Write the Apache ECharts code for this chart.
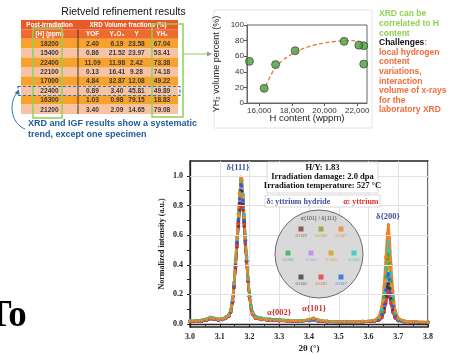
<!DOCTYPE html>
<html><head><meta charset="utf-8">
<script src="https://cdn.jsdelivr.net/npm/echarts@6/dist/echarts.min.js"></script>
<style>html,body{margin:0;padding:0;background:#fff;overflow:hidden}#c{width:450px;height:354px}</style>
</head><body><div id="c"></div>
<script>
// ---------- Table data (Rietveld refinement results) ----------
const hPpm   = [18200, 15400, 22400, 22100, 17000, 22400, 16300, 21200];
const yofPct = [2.40, 0.86, 11.09, 0.13, 4.84, 0.89, 1.03, 3.40];
const y2o3Pct= [6.19, 21.52, 11.98, 16.41, 32.87, 3.40, 0.98, 2.09];
const yPct   = [23.58, 23.97, 2.42, 9.28, 12.08, 45.81, 79.15, 14.65];
const yh2Pct = [67.04, 53.41, 73.38, 74.18, 49.22, 49.89, 18.83, 79.08];
const tableHead2 = ['[H] (ppm)', 'YOF', 'Y₂O₃', 'Y', 'YH₂'];

// ---------- Fit curve ----------
const fitH   = [16250, 16400, 16600, 16800, 17000, 17400, 17800, 18200, 18600, 19000, 19500, 20000, 20500, 21000, 21500, 22000, 22400];
const fitYH2 = [14, 22, 31, 39, 46, 54, 60, 65, 69, 72, 75, 77, 78.5, 79.5, 80, 79.5, 77];
const scatterXTicks = [16000, 18000, 20000, 22000];

// ---------- XRD spectra ----------
const twoTheta = [3.000,3.020,3.040,3.055,3.068,3.080,3.095,3.110,3.120,
  3.130,3.137,3.143,3.148,3.153,3.158,3.163,3.167,3.171,3.174,3.178,3.182,3.186,3.190,3.195,3.200,3.205,3.210,
  3.220,3.240,3.270,3.300,3.330,3.370,3.400,3.415,3.430,3.460,3.520,3.580,
  3.620,3.635,3.645,3.652,3.658,3.663,3.667,3.671,3.676,3.682,3.690,3.700,
  3.720,3.760,3.800];
const specBrown = [0.016,0.017,0.020,0.026,0.036,0.032,0.026,0.030,0.038,
  0.052,0.082,0.145,0.245,0.380,0.520,0.660,0.770,0.840,0.835,0.770,0.660,0.540,0.420,0.290,0.185,0.108,0.068,
  0.040,0.030,0.024,0.022,0.019,0.017,0.024,0.030,0.021,0.014,0.012,0.013,
  0.019,0.027,0.043,0.080,0.138,0.186,0.200,0.182,0.135,0.080,0.040,0.023,
  0.014,0.011,0.010];
const specOlive = [0.018,0.019,0.022,0.028,0.039,0.034,0.028,0.032,0.040,
  0.055,0.086,0.152,0.258,0.400,0.555,0.710,0.850,0.950,0.940,0.840,0.700,0.565,0.430,0.295,0.188,0.110,0.069,
  0.041,0.031,0.026,0.025,0.021,0.019,0.028,0.036,0.025,0.017,0.015,0.016,
  0.023,0.040,0.085,0.170,0.310,0.420,0.450,0.390,0.280,0.150,0.068,0.032,
  0.018,0.014,0.012];
const specViolet = [0.018,0.019,0.022,0.028,0.038,0.034,0.028,0.032,0.040,
  0.054,0.085,0.150,0.255,0.395,0.545,0.700,0.830,0.920,0.910,0.820,0.690,0.555,0.425,0.292,0.186,0.109,0.069,
  0.041,0.031,0.026,0.024,0.021,0.019,0.027,0.034,0.024,0.016,0.014,0.015,
  0.021,0.032,0.060,0.120,0.210,0.290,0.310,0.270,0.190,0.110,0.050,0.027,
  0.016,0.013,0.011];
const specGold = [0.019,0.020,0.023,0.029,0.040,0.035,0.029,0.033,0.041,
  0.057,0.088,0.156,0.264,0.410,0.565,0.725,0.860,0.960,0.950,0.850,0.710,0.572,0.435,0.298,0.189,0.110,0.070,
  0.042,0.032,0.027,0.025,0.022,0.020,0.030,0.038,0.026,0.017,0.015,0.016,
  0.022,0.038,0.080,0.160,0.290,0.390,0.420,0.370,0.260,0.140,0.064,0.031,
  0.017,0.014,0.012];
const specGray = [0.017,0.018,0.021,0.027,0.037,0.033,0.027,0.031,0.039,
  0.053,0.084,0.148,0.252,0.390,0.540,0.690,0.815,0.900,0.895,0.810,0.685,0.552,0.422,0.290,0.185,0.108,0.068,
  0.040,0.030,0.025,0.023,0.020,0.018,0.025,0.031,0.022,0.015,0.013,0.014,
  0.020,0.030,0.054,0.105,0.185,0.250,0.270,0.240,0.170,0.095,0.045,0.025,
  0.015,0.012,0.011];
const specRed = [0.017,0.018,0.021,0.027,0.036,0.032,0.027,0.031,0.039,
  0.053,0.083,0.147,0.250,0.386,0.532,0.680,0.800,0.880,0.875,0.795,0.675,0.548,0.420,0.290,0.185,0.108,0.068,
  0.040,0.030,0.025,0.023,0.020,0.018,0.023,0.028,0.020,0.015,0.013,0.014,
  0.020,0.028,0.046,0.088,0.150,0.205,0.220,0.195,0.140,0.080,0.040,0.024,
  0.015,0.012,0.011];
const specBlue = [0.018,0.019,0.022,0.028,0.038,0.034,0.028,0.032,0.040,
  0.055,0.086,0.152,0.258,0.400,0.552,0.708,0.845,0.940,0.932,0.835,0.700,0.565,0.430,0.296,0.188,0.110,0.070,
  0.041,0.031,0.026,0.024,0.021,0.019,0.024,0.029,0.022,0.016,0.014,0.015,
  0.021,0.034,0.066,0.130,0.230,0.320,0.340,0.300,0.210,0.120,0.055,0.028,
  0.016,0.013,0.011];
const specGreen = [0.022,0.023,0.027,0.034,0.046,0.040,0.034,0.038,0.047,
  0.063,0.096,0.168,0.280,0.430,0.590,0.745,0.880,0.970,0.965,0.870,0.735,0.595,0.455,0.315,0.205,0.125,0.082,
  0.052,0.040,0.034,0.031,0.026,0.022,0.030,0.038,0.027,0.019,0.017,0.018,
  0.023,0.040,0.090,0.180,0.320,0.440,0.470,0.410,0.290,0.160,0.070,0.033,
  0.019,0.015,0.013];
const specCyan = [0.020,0.021,0.025,0.031,0.042,0.037,0.031,0.035,0.044,
  0.060,0.093,0.164,0.275,0.425,0.585,0.745,0.885,0.980,0.975,0.875,0.735,0.592,0.450,0.310,0.198,0.116,0.074,
  0.045,0.034,0.029,0.027,0.023,0.021,0.029,0.036,0.026,0.018,0.016,0.017,
  0.024,0.045,0.100,0.210,0.380,0.520,0.560,0.490,0.340,0.190,0.080,0.036,
  0.019,0.015,0.013];
const specOrange = [0.020,0.021,0.024,0.030,0.041,0.036,0.030,0.034,0.042,
  0.058,0.090,0.160,0.270,0.420,0.580,0.740,0.880,0.990,0.970,0.860,0.720,0.580,0.440,0.300,0.190,0.110,0.070,
  0.042,0.032,0.027,0.026,0.022,0.020,0.031,0.040,0.027,0.018,0.016,0.017,
  0.025,0.050,0.120,0.250,0.450,0.610,0.670,0.580,0.400,0.220,0.090,0.040,
  0.020,0.015,0.013];
const xrdTicksY = [0, 0.2, 0.4, 0.6, 0.8, 1.0];
const xrdMinorY = [0, 0.1, 0.2, 0.3, 0.4, 0.5, 0.6, 0.7, 0.8, 0.9, 1.0];

// ---------- Inset: alpha{101}/delta{111} ratios ----------
const insetRatio = [0.039, 0.038, 0.047, 0.036, 0.042, 0.046, 0.042, 0.036, 0.030, 0.027];
const insetCol   = [1, 2, 3, 0.35, 1.5, 2.5, 3.65, 1, 2, 3];
const insetRow   = [0, 0, 0, 1, 1, 1, 1, 2, 2, 2];

// ---------- styles ----------
const C = {brown:'#7E3B3B', olive:'#9C9A1E', orange:'#F5821F', green:'#2EAF5C', violet:'#C07FEF',
  gold:'#D9A010', cyan:'#20C9C9', gray:'#3A3A3A', red:'#EE3535', blue:'#2563DE'};
const insetColors = [C.brown, C.olive, C.orange, C.green, C.violet, C.gold, C.cyan, C.gray, C.red, C.blue];
const SANS = "'Liberation Sans', Arial, sans-serif";
const SERIF = "'Liberation Serif', 'Times New Roman', serif";
const colEdges = [0, 57, 86, 106, 125, 157];

// table cells
const tableCells = [];
const whiteB = 'bold 6.3px ' + SANS;
tableCells.push({c0:0,c1:1,r:0,text:'Post-irradiation',fill:'#E85A2A',color:'#fff',font:whiteB});
tableCells.push({c0:1,c1:5,r:0,text:'XRD Volume fractions (%)',fill:'#E85A2A',color:'#fff',font:whiteB});
tableHead2.forEach((t,i)=>tableCells.push({c0:i,c1:i+1,r:1,text:t,fill:'#EF6A2E',color:'#fff',font:whiteB}));
hPpm.forEach((h,i)=>{
  const fill = i%2===0 ? '#F6A22C' : '#F8C3A5';
  const vals = [String(h), yofPct[i].toFixed(2), y2o3Pct[i].toFixed(2), yPct[i].toFixed(2), yh2Pct[i].toFixed(2)];
  vals.forEach((v,j)=>tableCells.push({c0:j,c1:j+1,r:i+2,text:v,fill:fill,color:'#3a3a3a',font:'bold 6.6px '+SANS}));
});

function spec(name, color, ys, extra){
  return Object.assign({
    type:'line', name:name, xAxisIndex:2, yAxisIndex:2,
    data: twoTheta.map((x,i)=>[x, ys[i]]),
    symbol:'circle', symbolSize:3.5, showSymbol:true,
    lineStyle:{color:color, width:2.4}, itemStyle:{color:color},
    silent:true, z:3
  }, extra||{});
}

const chart = echarts.init(document.getElementById('c'), null, {renderer:'canvas'});

const option = {
  animation:false,
  backgroundColor:'#fff',
  grid:[
    {left:21, top:20, width:157, height:94, show:false},
    {left:247, top:25, width:120, height:78, show:true, borderColor:'#666', borderWidth:1},
    {left:190, top:161, width:238, height:166, show:true, borderColor:'#222', borderWidth:1.3},
    {left:281, top:229, width:80, height:48, show:false}
  ],
  xAxis:[
    {gridIndex:0, type:'value', min:0, max:157, show:false},
    {gridIndex:1, type:'value', min:15250, max:22600,
      axisLine:{show:true, lineStyle:{color:'#666'}},
      axisTick:{show:true, length:3, customValues:scatterXTicks, lineStyle:{color:'#555'}},
      axisLabel:{customValues:scatterXTicks, margin:4, fontSize:8, fontFamily:SANS, color:'#333'},
      splitLine:{show:false}},
    {gridIndex:2, type:'value', min:3.0, max:3.8, interval:0.1,
      axisLine:{show:true, lineStyle:{color:'#222', width:1.3}},
      axisTick:{show:true, length:3, lineStyle:{color:'#222'}},
      minorTick:{show:true, splitNumber:2, length:2, lineStyle:{color:'#222'}},
      axisLabel:{margin:6, fontSize:8, fontWeight:'bold', fontFamily:SERIF, color:'#222', formatter:v=>v.toFixed(1)},
      splitLine:{show:true, lineStyle:{color:'#e2e2e2', width:1}}},
    {gridIndex:3, type:'value', min:0, max:4, show:false}
  ],
  yAxis:[
    {gridIndex:0, type:'category', inverse:true, data:['h1','h2','r0','r1','r2','r3','r4','r5','r6','r7'], show:false},
    {gridIndex:1, type:'value', min:0, max:100, interval:20,
      axisLine:{show:true, lineStyle:{color:'#666'}},
      axisTick:{show:true, length:3, lineStyle:{color:'#555'}},
      axisLabel:{margin:3, fontSize:8, fontFamily:SANS, color:'#333'},
      splitLine:{show:false}},
    {gridIndex:2, type:'value', min:-0.02, max:1.1,
      axisLine:{show:true, lineStyle:{color:'#222', width:1.3}},
      axisTick:{show:true, length:3, customValues:xrdMinorY, lineStyle:{color:'#222'}},
      axisLabel:{customValues:xrdTicksY, margin:7, fontSize:8, fontWeight:'bold', fontFamily:SERIF, color:'#222', formatter:v=>v.toFixed(1)},
      splitLine:{show:false}},
    {gridIndex:3, type:'value', min:0, max:2, inverse:true, show:false}
  ],
  series:[
    {type:'custom', xAxisIndex:0, yAxisIndex:0, silent:true,
      data: tableCells.map(c=>[colEdges[c.c0], c.r]),
      encode:{x:0, y:1},
      renderItem:function(params, api){
        const cell = tableCells[params.dataIndex];
        const p0 = api.coord([colEdges[cell.c0], cell.r]);
        const p1 = api.coord([colEdges[cell.c1], cell.r]);
        const bh = api.size([0,1])[1];
        const ch = [
          {type:'rect', shape:{x:p0[0], y:p0[1]-bh/2, width:p1[0]-p0[0], height:bh}, style:{fill:cell.fill}},
          {type:'text', style:{text:cell.text, x:(p0[0]+p1[0])/2, y:p0[1]+0.5, align:'center', verticalAlign:'middle', font:cell.font, fill:cell.color}}
        ];
        if (cell.c0===1 && cell.r>=1) ch.push({type:'line', shape:{x1:p0[0], y1:p0[1]-bh/2, x2:p0[0], y2:p0[1]+bh/2}, style:{stroke:'#4a2e1e', lineWidth:1}});
        return {type:'group', children:ch};
      }},
    {type:'line', xAxisIndex:1, yAxisIndex:1, data: fitH.map((h,i)=>[h, fitYH2[i]]), smooth:true, showSymbol:false,
      lineStyle:{color:'#F0753A', width:1.3, type:[4,2.5]}, silent:true},
    {type:'scatter', xAxisIndex:1, yAxisIndex:1, data: hPpm.map((h,i)=>[h, yh2Pct[i]]), symbolSize:8,
      itemStyle:{color:'#4F9B40', borderColor:'#1f3f18', borderWidth:0.8}, silent:true, z:4},
    spec('brown', C.brown, specBrown, {markLine:{silent:true, symbol:'none', label:{show:false}, animation:false,
      lineStyle:{color:'#e2e2e2', type:'solid', width:1}, data: xrdTicksY.slice(1).map(v=>({yAxis:v}))}}),
    spec('olive', C.olive, specOlive),
    spec('violet', C.violet, specViolet),
    spec('gold', C.gold, specGold),
    spec('gray', C.gray, specGray),
    spec('red', C.red, specRed),
    spec('blue', C.blue, specBlue),
    spec('green', C.green, specGreen),
    spec('cyan', C.cyan, specCyan),
    spec('orange', C.orange, specOrange),
    {type:'scatter', xAxisIndex:3, yAxisIndex:3, z:30, silent:true, symbol:'rect', symbolSize:5,
      data: insetRatio.map((r,i)=>({value:[insetCol[i], insetRow[i], r], itemStyle:{color:insetColors[i]},
        label:{color:insetColors[i]}})),
      label:{show:true, position:'bottom', distance:1.5, fontSize:5, fontFamily:SERIF,
        formatter:p=>p.value[2].toFixed(3)}}
  ],
  graphic:[
    {type:'text', x:123.5, y:12, z:50, style:{text:'Rietveld refinement results', font:'10.5px '+SANS, fill:'#111', align:'center', verticalAlign:'middle'}},
    {type:'rect', z:50, shape:{x:33, y:28, width:29, height:90}, style:{fill:'none', stroke:'#92D050', lineWidth:1.5}},
    {type:'rect', z:50, shape:{x:152, y:24, width:31, height:93}, style:{fill:'none', stroke:'#92D050', lineWidth:1.5}},
    {type:'line', z:50, shape:{x1:183, y1:54, x2:207, y2:54}, style:{stroke:'#92D050', lineWidth:1}},
    {type:'polygon', z:50, shape:{points:[[207,51.5],[212,54],[207,56.5]]}, style:{fill:'#9a9a9a'}},
    {type:'rect', z:50, shape:{x:18, y:86.5, width:162, height:9}, style:{fill:'none', stroke:'#2E75B6', lineWidth:1.2, lineDash:[3,2]}},
    {type:'bezierCurve', z:50, shape:{x1:25, y1:129, x2:17, y2:93, cpx1:10, cpx2:9, cpy1:123, cpy2:102}, style:{fill:'none', stroke:'#2E75B6', lineWidth:1}},
    {type:'polygon', z:50, shape:{points:[[19,89.5],[14.5,93],[19.5,95]]}, style:{fill:'#2E75B6'}},
    {type:'text', x:28, y:124, z:50, style:{text:'XRD and IGF results show a systematic', font:'bold 9px '+SANS, fill:'#1F5C99', verticalAlign:'middle'}},
    {type:'text', x:28, y:135, z:50, style:{text:'trend, except one specimen', font:'bold 9px '+SANS, fill:'#1F5C99', verticalAlign:'middle'}},
    // scatter panel
    {type:'rect', z:1, shape:{x:214, y:10, width:158, height:118}, style:{fill:'none', stroke:'#e4e4e4', lineWidth:1}},
    {type:'text', x:217, y:64, rotation:Math.PI/2, z:50, style:{text:'YH₂ volume percent (%)', font:'9px '+SANS, fill:'#222', align:'center', verticalAlign:'middle'}},
    {type:'text', x:307, y:118, z:50, style:{text:'H content (wppm)', font:'9.5px '+SANS, fill:'#222', align:'center', verticalAlign:'middle'}},
    // right-hand text column
    {type:'text', x:379, y:14, z:50, style:{text:'XRD can be', font:'bold 8.5px '+SANS, fill:'#92D050', verticalAlign:'middle'}},
    {type:'text', x:379, y:23.6, z:50, style:{text:'correlated to H', font:'bold 8.5px '+SANS, fill:'#92D050', verticalAlign:'middle'}},
    {type:'text', x:379, y:33.2, z:50, style:{text:'content', font:'bold 8.5px '+SANS, fill:'#92D050', verticalAlign:'middle'}},
    {type:'text', x:379, y:42.8, z:50, style:{text:'{k|Challenges}{o|:}', verticalAlign:'middle',
      rich:{k:{font:'bold 8.5px '+SANS, fill:'#111'}, o:{font:'bold 8.5px '+SANS, fill:'#F26B3A'}}}},
    {type:'text', x:379, y:52.4, z:50, style:{text:'local hydrogen', font:'bold 8.5px '+SANS, fill:'#F26B3A', verticalAlign:'middle'}},
    {type:'text', x:379, y:62, z:50, style:{text:'content', font:'bold 8.5px '+SANS, fill:'#F26B3A', verticalAlign:'middle'}},
    {type:'text', x:379, y:71.6, z:50, style:{text:'variations,', font:'bold 8.5px '+SANS, fill:'#F26B3A', verticalAlign:'middle'}},
    {type:'text', x:379, y:81.2, z:50, style:{text:'interaction', font:'bold 8.5px '+SANS, fill:'#F26B3A', verticalAlign:'middle'}},
    {type:'text', x:379, y:90.8, z:50, style:{text:'volume of x-rays', font:'bold 8.5px '+SANS, fill:'#F26B3A', verticalAlign:'middle'}},
    {type:'text', x:379, y:100.4, z:50, style:{text:'for the', font:'bold 8.5px '+SANS, fill:'#F26B3A', verticalAlign:'middle'}},
    {type:'text', x:379, y:110, z:50, style:{text:'laboratory XRD', font:'bold 8.5px '+SANS, fill:'#F26B3A', verticalAlign:'middle'}},
    // big "To"
    {type:'text', x:-13, y:335, z:50, style:{text:'To', font:'bold 37px '+SERIF, fill:'#000', verticalAlign:'bottom'}},
    // XRD titles
    {type:'text', x:162, y:244, rotation:Math.PI/2, z:50, style:{text:'Normalized intensity (a.u.)', font:'bold 8px '+SERIF, fill:'#222', align:'center', verticalAlign:'middle'}},
    {type:'text', x:309, y:349, z:50, style:{text:'2θ (°)', font:'bold 9px '+SERIF, fill:'#222', align:'center', verticalAlign:'middle'}},
    // info boxes
    {type:'rect', z:10, shape:{x:267, y:162, width:111, height:31}, style:{fill:'#fff', stroke:'#cfcfcf', lineWidth:0.8}},
    {type:'text', x:322.5, y:167.5, z:11, style:{text:'H/Y: 1.83', font:'bold 8.5px '+SERIF, fill:'#111', align:'center', verticalAlign:'middle'}},
    {type:'text', x:322.5, y:176.5, z:11, style:{text:'Irradiation damage: 2.0 dpa', font:'bold 8.5px '+SERIF, fill:'#111', align:'center', verticalAlign:'middle'}},
    {type:'text', x:322.5, y:185.5, z:11, style:{text:'Irradiation temperature: 527 °C', font:'bold 8.5px '+SERIF, fill:'#111', align:'center', verticalAlign:'middle'}},
    {type:'rect', z:10, shape:{x:265, y:195, width:115, height:12}, style:{fill:'#fff', stroke:'#cfcfcf', lineWidth:0.8}},
    {type:'text', x:266.5, y:201.5, z:11, style:{text:'δ: yttrium hydride', font:'bold 8px '+SERIF, fill:'#3F4FA0', verticalAlign:'middle'}},
    {type:'text', x:378.5, y:201.5, z:11, style:{text:'α: yttrium', font:'bold 8px '+SERIF, fill:'#E0302F', align:'right', verticalAlign:'middle'}},
    {type:'text', x:238, y:168, z:11, style:{text:'δ{111}', font:'bold 8.5px '+SERIF, fill:'#3F4FA0', align:'center', verticalAlign:'middle'}},
    {type:'text', x:388, y:217, z:11, style:{text:'δ{200}', font:'bold 8.5px '+SERIF, fill:'#3F4FA0', align:'center', verticalAlign:'middle'}},
    {type:'text', x:279, y:313, z:11, style:{text:'α{002}', font:'bold 8.5px '+SERIF, fill:'#D03030', align:'center', verticalAlign:'middle'}},
    {type:'text', x:314, y:309, z:11, style:{text:'α{101}', font:'bold 8.5px '+SERIF, fill:'#D03030', align:'center', verticalAlign:'middle'}},
    // inset circle
    {type:'circle', z:10, shape:{cx:319, cy:254, r:44}, style:{fill:'#d9d9d9', stroke:'#4a4a4a', lineWidth:0.8}},
    {type:'text', x:319, y:218.5, z:11, style:{text:'α{101} / δ{111}', font:'5.5px '+SERIF, fill:'#333', align:'center', verticalAlign:'middle'}}
  ]
};
chart.setOption(option);
</script>
</body></html>
